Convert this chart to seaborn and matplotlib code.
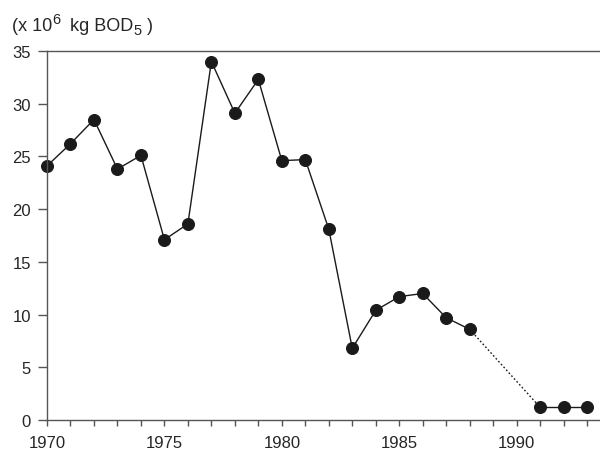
import matplotlib
matplotlib.use("Agg")
import matplotlib.pyplot as plt
from matplotlib.ticker import MultipleLocator
from matplotlib.transforms import offset_copy
import seaborn as sns
import pandas as pd

# Annual BOD5 load, millions of kg
years_early = [1970, 1971, 1972, 1973, 1974, 1975, 1976, 1977, 1978, 1979,
               1980, 1981, 1982, 1983, 1984, 1985, 1986, 1987, 1988]
load_early = [24.1, 26.2, 28.5, 23.8, 25.1, 17.1, 18.6, 34.0, 29.1, 32.3,
              24.6, 24.7, 18.1, 6.8, 10.4, 11.7, 12.0, 9.7, 8.6]
years_late = [1991, 1992, 1993]
load_late = [1.2, 1.2, 1.2]

y_ticks = [0, 5, 10, 15, 20, 25, 30, 35]
x_ticks = [1970, 1975, 1980, 1985, 1990]

sns.set_style("white")
plt.rcParams["font.family"] = ["Liberation Sans", "DejaVu Sans"]

early = pd.DataFrame({"year": years_early, "load": load_early})
late = pd.DataFrame({"year": years_late, "load": load_late})
gap = pd.DataFrame({"year": [years_early[-1], years_late[0]],
                    "load": [load_early[-1], load_late[0]]})

fig = plt.figure(figsize=(6.0, 4.52), dpi=100)
ax = fig.add_axes([47 / 600, 1 - 421 / 452, 1 - 47 / 600, (421 - 52) / 452])

line_kw = dict(color="#1a1a1a", linewidth=1.0, ax=ax)
mark_kw = dict(marker="o", markersize=8.6, markerfacecolor="#1a1a1a",
               markeredgecolor="#1a1a1a")
sns.lineplot(data=gap, x="year", y="load", linestyle=(0, (1.2, 1.6)), **line_kw)
sns.lineplot(data=early, x="year", y="load", **mark_kw, **line_kw)
sns.lineplot(data=late, x="year", y="load", **mark_kw, **line_kw)

ax.set_xlim(1970, 1993.55)
ax.set_ylim(0, 35)
ax.set_xticks(x_ticks)
ax.xaxis.set_minor_locator(MultipleLocator(1))
ax.set_yticks(y_ticks)
ax.set_xlabel("")
ax.set_ylabel("")

for side in ("left", "bottom", "top"):
    ax.spines[side].set_visible(True)
    ax.spines[side].set_color("#555555")
    ax.spines[side].set_linewidth(1.0)
ax.spines["right"].set_visible(False)
for c in ax.lines:
    c.set_clip_on(False)

ax.tick_params(axis="y", which="major", direction="out", length=6.5, width=1.0,
               color="#555555", labelsize=12, pad=5, left=True)
ax.tick_params(axis="x", which="both", direction="out", length=4.5, width=1.0,
               color="#555555", labelsize=12, pad=6, bottom=True)

# Unit label with full-size superscript / subscript pieces
renderer = fig.canvas.get_renderer()
pieces = [("(x 10", 13, 0), ("6", 10.5, 7), ("  kg BOD", 13, 0),
          ("5", 10.5, -4), (" )", 13, 0)]
x_px, base_px = 12, 452 - 31
for txt, size, dy in pieces:
    tr = offset_copy(fig.transFigure, fig=fig, x=x_px, y=base_px + dy, units="dots")
    t = fig.text(0, 0, txt, fontsize=size, transform=tr, va="baseline", ha="left")
    x_px += t.get_window_extent(renderer).width

fig.savefig("out.png", dpi=100)
